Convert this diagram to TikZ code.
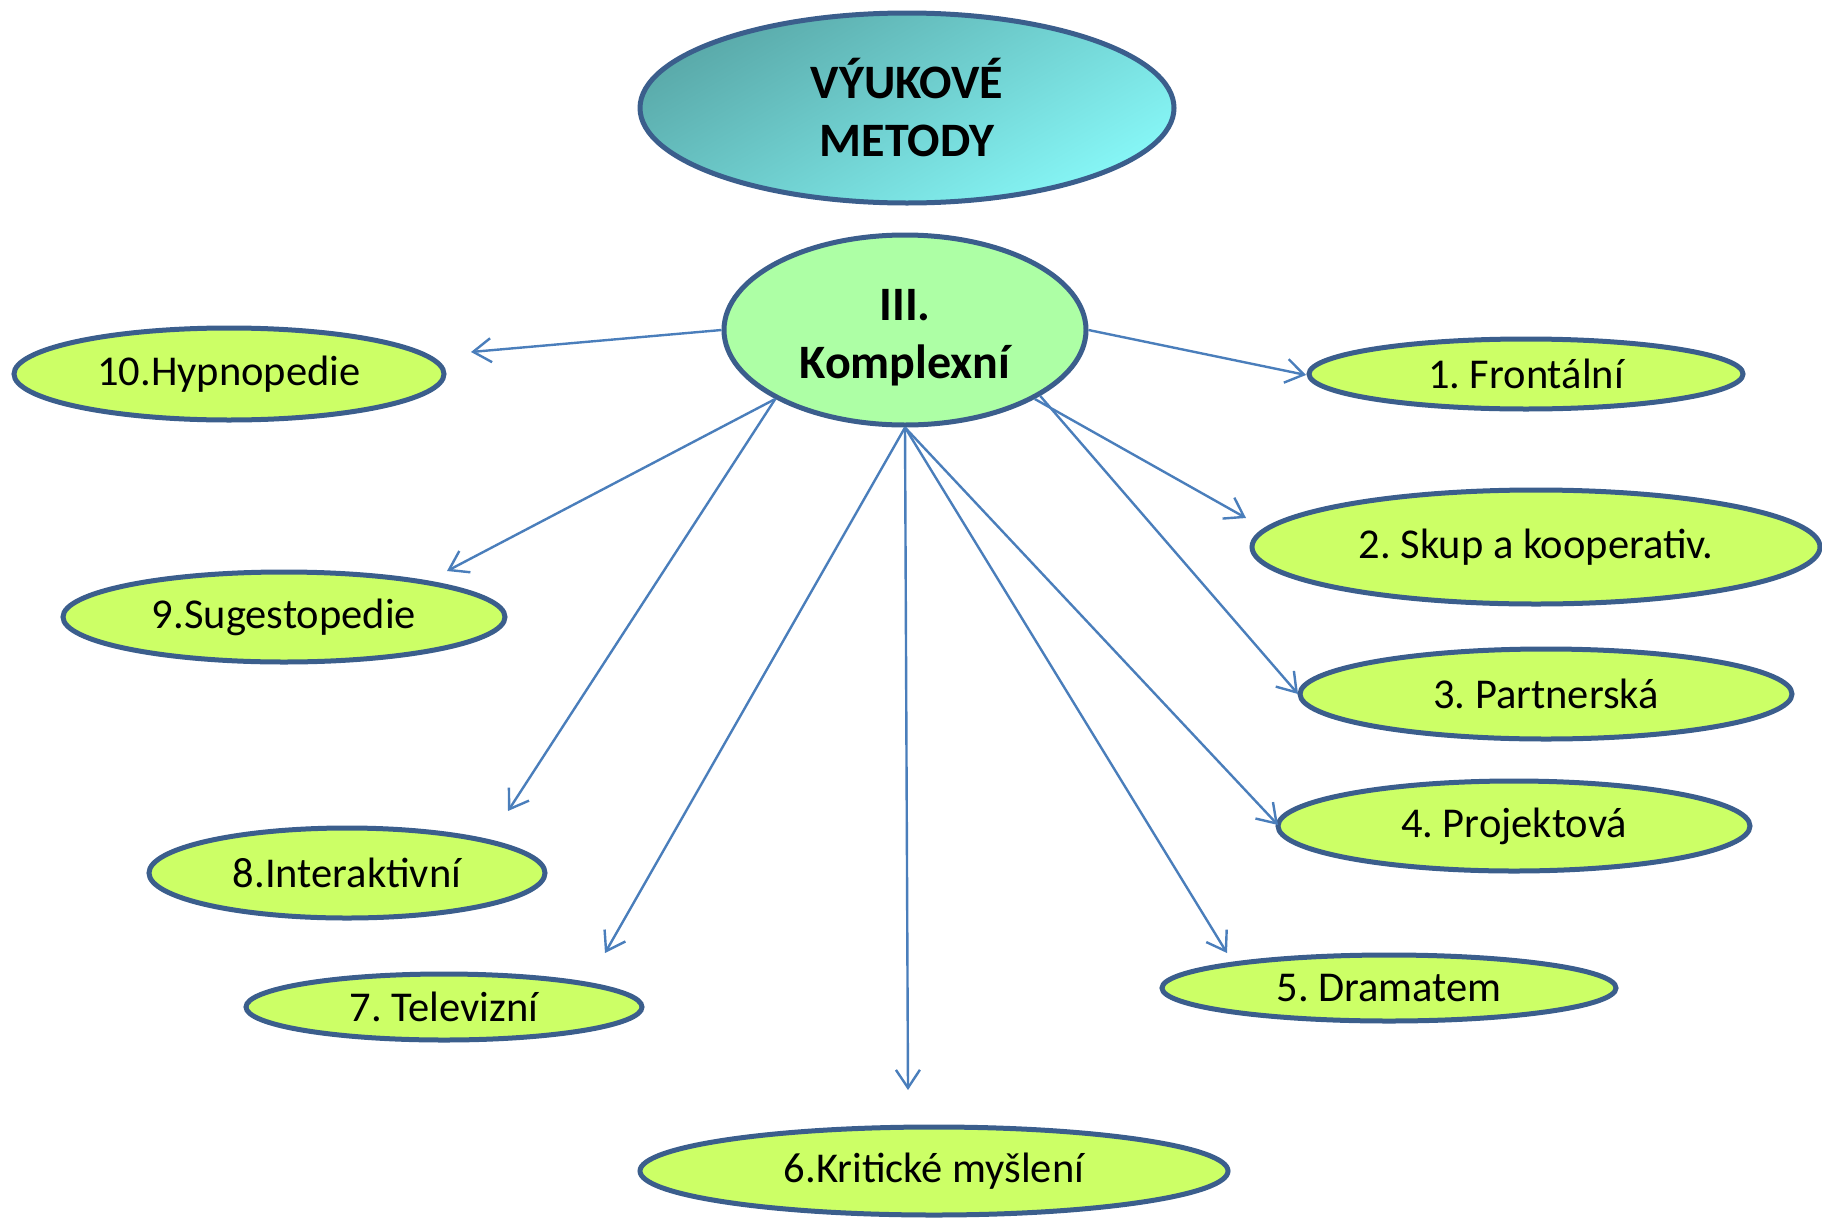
\documentclass[tikz,border=0pt]{standalone}
\usepackage{fontspec}
\setmainfont{Carlito}
\usetikzlibrary{shapes.geometric,arrows.meta}
\definecolor{rimblue}{HTML}{3B5E8C}
\definecolor{leafgreen}{HTML}{CCFF66}
\definecolor{hubgreen}{HTML}{ADFFA5}
\definecolor{tealdark}{HTML}{5AAAAA}
\definecolor{teallight}{HTML}{86F6F6}
\definecolor{linkblue}{HTML}{4A7EBB}
\tikzset{
  oval/.style={ellipse, draw=rimblue, line width=5pt, inner sep=0pt},
  leaf/.style={oval, fill=leafgreen, font=\fontsize{42.5}{50}\selectfont},
  link/.style={draw=linkblue, line width=2.4pt, -{Straight Barb[length=18pt,width=24pt]}}
}
\begin{document}
\frenchspacing
\begin{tikzpicture}[x=1pt, y=-1pt]
    \useasboundingbox (0,0) rectangle (1822,1218);

    % Title
    \node[oval, top color=tealdark, bottom color=teallight, shading angle=30,
      minimum width=534pt, minimum height=190pt, align=center,
      font=\bfseries\fontsize{48}{58}\selectfont]
      (title) at (907,108) {VÝUKOVÉ\\METODY};

    % Hub
    \node[oval, fill=hubgreen, minimum width=362pt, minimum height=190pt,
      align=center, font=\bfseries\fontsize{48}{58}\selectfont]
      (hub) at (905,330) {\rule{0pt}{46pt}III.\\Komplexní};

    % Methods
    \foreach \n/\x/\y/\w/\h/\txt in
    { 1/1526/374/434/70/{1. Frontální}, 2/1536/547/568/114/{2. Skup a kooperativ.},
      3/1546/694/492/90/{3. Partnerská}, 4/1514/826/472/90/{4. Projektová},
      5/1389/988/454/66/{5. Dramatem}, 6/934/1171/588/88/{6.Kritické myšlení},
      7/444/1007/396/66/{7. Televizní}, 8/347/873/396/90/{8.Interaktivní},
      9/284/617/442/90/{9.Sugestopedie}, 10/229/374/430/92/{10.Hypnopedie} }
    { \node[leaf, minimum width=\w pt, minimum height=\h pt] (m\n) at (\x,\y) {\txt}; }

    % Arrow ends
    \coordinate (e1) at (1306,375);
    \coordinate (e2) at (1246,518);
    \coordinate (e3) at (1298,694);
    \coordinate (e4) at (1278,825);
    \coordinate (e5) at (1227,953);
    \coordinate (e6) at (908,1090);
    \coordinate (e7) at (605,953);
    \coordinate (e8) at (508,811);
    \coordinate (e9) at (447,571);
    \coordinate (e10) at (471,352);

    % Arrows
    \foreach \a/\n in {east/1, -28/2, -26/3, south/4, south/5, south/6,
      south/7, 208/8, 208/9, west/10}
    \draw[link] (hub.\a) -- (e\n);
\end{tikzpicture}
\end{document}
